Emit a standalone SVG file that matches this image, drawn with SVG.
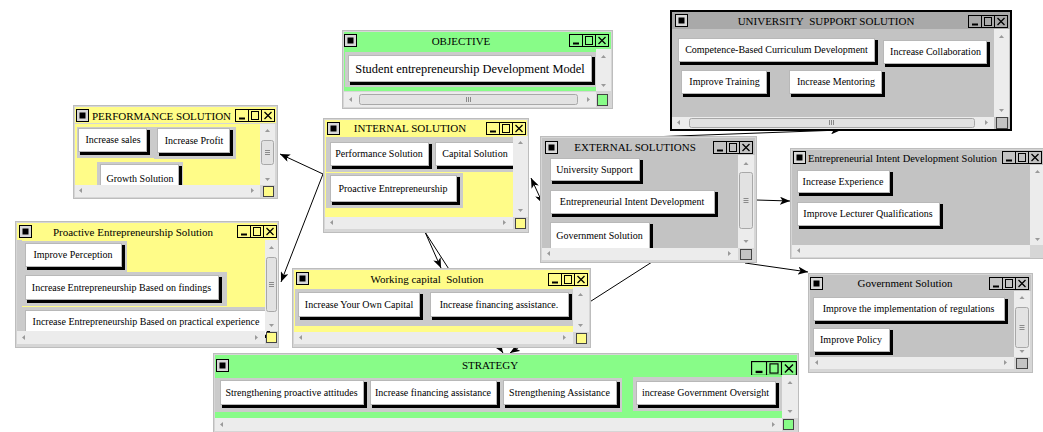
<svg xmlns="http://www.w3.org/2000/svg" width="1043" height="432" viewBox="0 0 1043 432">
<defs>
<style>
.fr{fill:#d6d6d6;stroke:#bdbdbd;stroke-width:1}
.g{fill:#88fc88}
.y{fill:#fffc88}
.k{fill:#c3c3c3}
.kt{fill:#a9a9a9}
.row{fill:#cbcbcb}
.sb{fill:#ececec}
.th{fill:#e2e2e2;stroke:#a8a8a8;stroke-width:1}
.tm{stroke:#8a8a8a;stroke-width:1}
.cor{stroke:#444;stroke-width:1}
.bs{fill:#000}
.bf{fill:#fff;stroke:#b8b8b8;stroke-width:1}
.tt{font-family:"Liberation Serif","Times New Roman",serif;font-size:11px;fill:#000}
.bt{font-family:"Liberation Serif","Times New Roman",serif;font-size:10px;fill:#000;text-anchor:middle}
.c{text-anchor:middle}
.ln{stroke:#000;stroke-width:1;fill:none}
</style>
<marker id="ah" viewBox="0 0 10 8" refX="10" refY="4" markerWidth="10" markerHeight="8" markerUnits="userSpaceOnUse" orient="auto-start-reverse"><path d="M0,0 L10,4 L0,8 L2.5,4 z" fill="#000"/></marker>
<g id="menu"><rect x="0.5" y="0.5" width="12" height="12" fill="#d8d8d8" stroke="#000"/><rect x="3.5" y="3.5" width="6" height="6" fill="#000"/></g>
<g id="ctl" fill="none" stroke="#000"><rect x="0.5" y="0.5" width="39" height="12"/><line x1="13.5" y1="0" x2="13.5" y2="13"/><line x1="26.5" y1="0" x2="26.5" y2="13"/><line x1="4" y1="9.5" x2="10" y2="9.5" stroke-width="2"/><rect x="16.5" y="2.5" width="7" height="8"/><path d="M29.5,3 L36.5,10 M36.5,3 L29.5,10" stroke-width="1.3"/></g>
<path id="au" d="M0,3 L2.5,0 L5,3z" fill="#9a9a9a"/>
<path id="ad" d="M0,0 L5,0 L2.5,3z" fill="#9a9a9a"/>
<path id="al" d="M3,0 L3,5 L0,2.5z" fill="#9a9a9a"/>
<path id="ar" d="M0,0 L3,2.5 L0,5z" fill="#9a9a9a"/>
<g id="vm" class="tm"><line x1="0" y1="0.5" x2="5" y2="0.5"/><line x1="0" y1="2.5" x2="5" y2="2.5"/><line x1="0" y1="4.5" x2="5" y2="4.5"/></g>
<g id="hm" class="tm"><line x1="0.5" y1="0" x2="0.5" y2="5"/><line x1="2.5" y1="0" x2="2.5" y2="5"/><line x1="4.5" y1="0" x2="4.5" y2="5"/></g>
</defs>
<rect width="1043" height="432" fill="#fff"/>

<g id="connectors" class="ln">
<line x1="323" y1="174" x2="280" y2="154" marker-end="url(#ah)"/>
<line x1="323" y1="174" x2="281" y2="282" marker-end="url(#ah)"/>
<line x1="531" y1="178" x2="543" y2="204" marker-start="url(#ah)" marker-end="url(#ah)"/>
<line x1="425" y1="232" x2="441" y2="268" marker-end="url(#ah)"/>
<line x1="425" y1="232" x2="503" y2="353" marker-end="url(#ah)"/>
<line x1="652" y1="262" x2="510" y2="353" marker-end="url(#ah)"/>
<line x1="650" y1="137" x2="841" y2="130" marker-end="url(#ah)"/>
<line x1="756" y1="200" x2="790" y2="201" marker-end="url(#ah)"/>
<line x1="745" y1="263" x2="808" y2="272" marker-end="url(#ah)"/>
</g>

<g id="objective">
<rect class="fr" x="342.5" y="30.5" width="270" height="78"/>
<rect class="g" x="344" y="32" width="267" height="17"/>
<use href="#menu" x="344" y="34"/>
<text class="tt c" x="461" y="44.5">OBJECTIVE</text>
<use href="#ctl" x="569" y="34"/>
<rect class="g" x="344" y="49" width="252" height="42"/>
<rect class="row" x="345" y="52" width="251" height="35"/>
<g><rect class="bs" x="350" y="57" width="245" height="28"/><rect class="bf" x="348.5" y="55.5" width="243" height="26"/><text class="bt" style="font-size:12.4px" x="470" y="73">Student entrepreneurship Development Model</text></g>
<rect class="sb" x="596" y="49" width="15" height="42"/>
<use href="#au" x="601" y="55"/><use href="#ad" x="601" y="84"/>
<rect class="sb" x="344" y="92" width="252" height="15"/>
<rect class="th" x="359.5" y="94.5" width="218" height="10" rx="2"/>
<use href="#hm" x="466" y="97"/>
<use href="#al" x="349" y="97"/><use href="#ar" x="587" y="97"/>
<rect class="g cor" x="597.5" y="94.5" width="10" height="11"/>
</g>

<g id="university">
<rect x="671" y="11" width="340" height="119" fill="#c3c3c3" stroke="#000" stroke-width="2"/>
<rect class="kt" x="672" y="12" width="338" height="17"/>
<use href="#menu" x="675" y="14"/>
<text class="tt c" x="826" y="24.5">UNIVERSITY&#160; SUPPORT SOLUTION</text>
<use href="#ctl" x="968" y="15"/>
<rect class="k" x="672" y="29" width="322" height="88"/>
<g><rect class="bs" x="680" y="40" width="198" height="25"/><rect class="bf" x="678.5" y="38.5" width="196" height="23"/><text class="bt" x="776.5" y="53">Competence-Based Curriculum Development</text></g>
<g><rect class="bs" x="885" y="42" width="105" height="25"/><rect class="bf" x="883.5" y="40.5" width="103" height="23"/><text class="bt" x="935.5" y="55">Increase Collaboration</text></g>
<g><rect class="bs" x="683" y="72" width="87" height="25"/><rect class="bf" x="681.5" y="70.5" width="85" height="23"/><text class="bt" x="724.5" y="85">Improve Training</text></g>
<g><rect class="bs" x="791" y="72" width="94" height="25"/><rect class="bf" x="789.5" y="70.5" width="92" height="23"/><text class="bt" x="836" y="85">Increase Mentoring</text></g>
<rect class="sb" x="994" y="29" width="15" height="88"/>
<use href="#au" x="999" y="35"/><use href="#ad" x="999" y="109"/>
<rect class="sb" x="672" y="117" width="322" height="12"/>
<rect class="th" x="689.5" y="118.5" width="285" height="9" rx="2"/>
<use href="#hm" x="829" y="120"/>
<use href="#al" x="677" y="120"/><use href="#ar" x="985" y="120"/>
<rect class="k cor" x="996.5" y="117.5" width="11" height="11"/>
</g>

<g id="performance">
<rect class="fr" x="73.5" y="105.5" width="204" height="93"/>
<rect class="y" x="75" y="107" width="201" height="16"/>
<use href="#menu" x="76" y="109"/>
<text class="tt" x="92" y="119.5">PERFORMANCE SOLUTION</text>
<use href="#ctl" x="235" y="109"/>
<rect class="y" x="75" y="124" width="185" height="61"/>
<rect class="row" x="77" y="127" width="77" height="31"/>
<rect class="row" x="154" y="127" width="82" height="32"/>
<rect class="row" x="97" y="162" width="86" height="23"/>
<g><rect class="bs" x="80" y="130" width="70" height="25"/><rect class="bf" x="78.5" y="128.5" width="68" height="23"/><text class="bt" x="113" y="143">Increase sales</text></g>
<g><rect class="bs" x="159" y="130" width="74" height="26"/><rect class="bf" x="157.5" y="128.5" width="72" height="24"/><text class="bt" x="194" y="143.5">Increase Profit</text></g>
<g><rect class="bs" x="102" y="166" width="80" height="30"/><rect class="bf" x="100.5" y="164.5" width="78" height="28"/><text class="bt" x="140" y="182">Growth Solution</text></g>
<rect class="sb" x="260" y="124" width="15" height="61"/>
<rect class="th" x="261.5" y="140.5" width="12" height="24" rx="2"/>
<use href="#vm" x="265" y="150"/>
<use href="#au" x="265" y="129"/><use href="#ad" x="265" y="178"/>
<rect class="sb" x="75" y="185" width="185" height="12"/>
<use href="#al" x="79" y="188"/><use href="#ar" x="251" y="188"/>
<rect class="y cor" x="263.5" y="186.5" width="10" height="10"/>
</g>

<g id="internal">
<rect class="fr" x="323.5" y="118.5" width="205" height="114"/>
<rect class="y" x="325" y="120" width="202" height="16"/>
<use href="#menu" x="327" y="122"/>
<text class="tt c" x="410" y="132">INTERNAL SOLUTION</text>
<use href="#ctl" x="486" y="122"/>
<rect class="y" x="325" y="136" width="188" height="81"/>
<rect class="row" x="326" y="137" width="187" height="35"/>
<rect class="row" x="326" y="173" width="137" height="35"/>
<g><rect class="bs" x="332" y="144" width="100" height="25"/><rect class="bf" x="330.5" y="142.5" width="98" height="23"/><text class="bt" x="379" y="157">Performance Solution</text></g>
<g><rect class="bs" x="437" y="144" width="80" height="25"/><rect class="bf" x="435.5" y="142.5" width="78" height="23"/><text class="bt" x="475" y="157">Capital Solution</text></g>
<g><rect class="bs" x="332" y="177" width="128" height="28"/><rect class="bf" x="330.5" y="175.5" width="126" height="26"/><text class="bt" x="393" y="192">Proactive Entrepreneurship</text></g>
<rect class="sb" x="513" y="136" width="15" height="81"/>
<use href="#au" x="518" y="141"/><use href="#ad" x="518" y="209"/>
<rect class="sb" x="325" y="217" width="188" height="12"/>
<use href="#al" x="330" y="220"/><use href="#ar" x="503" y="220"/>
<rect class="y cor" x="515.5" y="218.5" width="10" height="10"/>
</g>

<g id="external">
<rect class="fr" x="540.5" y="136.5" width="216" height="126"/>
<rect class="k" x="542" y="138" width="213" height="17"/>
<use href="#menu" x="545" y="141"/>
<text class="tt c" x="635" y="150.5">EXTERNAL SOLUTIONS</text>
<use href="#ctl" x="713" y="141"/>
<rect class="k" x="542" y="155" width="196" height="93"/>
<g><rect class="bs" x="552" y="160" width="91" height="24"/><rect class="bf" x="550.5" y="158.5" width="89" height="22"/><text class="bt" x="594.5" y="172.5">University Support</text></g>
<g><rect class="bs" x="552" y="192" width="166" height="25"/><rect class="bf" x="550.5" y="190.5" width="164" height="23"/><text class="bt" x="632" y="205">Entrepreneurial Intent Development</text></g>
<g><rect class="bs" x="552" y="224" width="101" height="28"/><rect class="bf" x="550.5" y="222.5" width="99" height="26"/><text class="bt" x="599.5" y="238.5">Government Solution</text></g>
<rect class="sb" x="738" y="155" width="16" height="93"/>
<rect class="th" x="739.5" y="172.5" width="13" height="56" rx="2"/>
<use href="#vm" x="743.5" y="198"/>
<use href="#au" x="743.5" y="162"/><use href="#ad" x="743.5" y="240"/>
<rect class="sb" x="542" y="248" width="196" height="12"/>
<use href="#al" x="547" y="251"/><use href="#ar" x="728" y="251"/>
<rect class="k cor" x="740.5" y="249.5" width="11" height="10"/>
</g>

<g id="eids">
<rect class="fr" x="790.5" y="148.5" width="260" height="110"/>
<rect class="k" x="792" y="150" width="260" height="15"/>
<use href="#menu" x="793" y="151"/>
<text class="tt" x="808" y="161.5" textLength="189" lengthAdjust="spacingAndGlyphs">Entrepreneurial Intent Development Solution</text>
<use href="#ctl" x="1002" y="151"/>
<rect class="k" x="792" y="165" width="238" height="80"/>
<g><rect class="bs" x="799" y="172" width="94" height="24"/><rect class="bf" x="797.5" y="170.5" width="92" height="22"/><text class="bt" x="843" y="184.5">Increase Experience</text></g>
<g><rect class="bs" x="799" y="204" width="144" height="25"/><rect class="bf" x="797.5" y="202.5" width="142" height="23"/><text class="bt" x="868" y="217">Improve Lecturer Qualifications</text></g>
<rect class="sb" x="1030" y="165" width="13" height="80"/>
<use href="#au" x="1035" y="170"/><use href="#ad" x="1035" y="238"/>
<rect class="sb" x="792" y="245" width="238" height="12"/>
<use href="#al" x="797" y="248"/>
</g>

<g id="proactive">
<rect class="fr" x="15.5" y="221.5" width="263" height="126"/>
<rect class="y" x="17" y="223" width="260" height="17"/>
<use href="#menu" x="19" y="225"/>
<text class="tt c" x="133" y="235.5">Proactive Entrepreneurship Solution</text>
<use href="#ctl" x="237" y="225"/>
<rect class="y" x="17" y="240" width="248" height="91"/>
<rect class="row" x="17" y="240" width="5" height="67"/>
<rect class="row" x="21" y="241" width="106" height="31"/>
<rect class="row" x="21" y="272" width="206" height="34"/>
<rect class="row" x="17" y="307" width="248" height="24"/>
<g><rect class="bs" x="27" y="245" width="98" height="25"/><rect class="bf" x="25.5" y="243.5" width="96" height="23"/><text class="bt" x="73" y="258">Improve Perception</text></g>
<g><rect class="bs" x="27" y="277" width="195" height="26"/><rect class="bf" x="25.5" y="275.5" width="193" height="24"/><text class="bt" x="121.5" y="290.5">Increase Entrepreneurship Based on findings</text></g>
<g><rect class="bs" x="27" y="312" width="243" height="26"/><rect class="bf" x="25.5" y="310.5" width="241" height="24"/><text class="bt" x="146" y="325">Increase Entrepreneurship Based on practical experience</text></g>
<rect class="sb" x="265" y="240" width="13" height="91"/>
<rect class="th" x="266.5" y="257.5" width="10" height="54" rx="2"/>
<use href="#vm" x="269" y="282"/>
<use href="#au" x="269" y="246"/><use href="#ad" x="269" y="324"/>
<rect class="sb" x="17" y="331" width="248" height="13"/>
<use href="#al" x="22" y="335"/><use href="#ar" x="255" y="335"/>
<rect class="y cor" x="266.5" y="332.5" width="10" height="10"/>
</g>

<g id="working">
<rect class="fr" x="292.5" y="268.5" width="298" height="79"/>
<rect class="y" x="294" y="270" width="295" height="17"/>
<use href="#menu" x="296" y="272"/>
<text class="tt c" x="427" y="282.5">Working capital&#160; Solution</text>
<use href="#ctl" x="548" y="273"/>
<rect class="y" x="294" y="287" width="279" height="45"/>
<rect class="row" x="295" y="289" width="278" height="37"/>
<g><rect class="bs" x="300" y="294" width="123" height="26"/><rect class="bf" x="298.5" y="292.5" width="121" height="24"/><text class="bt" x="359" y="307.5">Increase Your Own Capital</text></g>
<g><rect class="bs" x="432" y="294" width="140" height="26"/><rect class="bf" x="430.5" y="292.5" width="138" height="24"/><text class="bt" x="499" y="307.5">Increase financing assistance.</text></g>
<rect class="sb" x="573" y="287" width="16" height="45"/>
<use href="#au" x="578" y="293"/><use href="#ad" x="578" y="324"/>
<rect class="sb" x="294" y="332" width="279" height="12"/>
<use href="#al" x="299" y="335"/><use href="#ar" x="563" y="335"/>
<rect class="y cor" x="576.5" y="333.5" width="10" height="10"/>
</g>

<g id="government">
<rect class="fr" x="808.5" y="273.5" width="224" height="99"/>
<rect class="k" x="810" y="275" width="221" height="16"/>
<use href="#menu" x="810" y="277"/>
<text class="tt c" x="905" y="287">Government Solution</text>
<use href="#ctl" x="989" y="277"/>
<rect class="k" x="810" y="291" width="204" height="66"/>
<g><rect class="bs" x="815" y="299" width="193" height="25"/><rect class="bf" x="813.5" y="297.5" width="191" height="23"/><text class="bt" x="908.5" y="312">Improve the implementation of regulations</text></g>
<g><rect class="bs" x="815" y="330" width="78" height="25"/><rect class="bf" x="813.5" y="328.5" width="76" height="23"/><text class="bt" x="851" y="343">Improve Policy</text></g>
<rect class="sb" x="1014" y="291" width="16" height="66"/>
<rect class="th" x="1015.5" y="307.5" width="13" height="40" rx="2"/>
<use href="#vm" x="1019.5" y="325"/>
<use href="#au" x="1019.5" y="296"/><use href="#ad" x="1019.5" y="350"/>
<rect class="sb" x="810" y="357" width="204" height="12"/>
<use href="#al" x="815" y="360"/><use href="#ar" x="1004" y="360"/>
<rect class="k cor" x="1016.5" y="358.5" width="11" height="10"/>
</g>

<g id="strategy">
<rect class="fr" x="213.5" y="353.5" width="585" height="80"/>
<rect class="g" x="215" y="355" width="582" height="20"/>
<use href="#menu" x="216" y="359"/>
<text class="tt c" x="490" y="369">STRATEGY</text>
<use href="#ctl" transform="translate(751,361) scale(1.15)"/>
<rect class="g" x="215" y="375" width="567" height="43"/>
<rect class="row" x="215" y="378" width="407" height="34"/>
<rect class="row" x="633" y="377" width="150" height="34"/>
<g><rect class="bs" x="222" y="382" width="145" height="26"/><rect class="bf" x="220.5" y="380.5" width="143" height="24"/><text class="bt" x="291.5" y="395.5">Strengthening proactive attitudes</text></g>
<g><rect class="bs" x="372" y="382" width="128" height="26"/><rect class="bf" x="370.5" y="380.5" width="126" height="24"/><text class="bt" x="433" y="395.5">Increase financing assistance</text></g>
<g><rect class="bs" x="505" y="382" width="115" height="26"/><rect class="bf" x="503.5" y="380.5" width="113" height="24"/><text class="bt" x="559.5" y="395.5">Strengthening Assistance</text></g>
<g><rect class="bs" x="638" y="383" width="141" height="25"/><rect class="bf" x="636.5" y="381.5" width="139" height="23"/><text class="bt" x="705.5" y="396">increase Government Oversight</text></g>
<rect class="sb" x="782" y="375" width="16" height="43"/>
<use href="#au" x="787.5" y="381"/><use href="#ad" x="787.5" y="410"/>
<rect class="sb" x="215" y="418" width="567" height="13"/>
<use href="#al" x="220" y="422"/><use href="#ar" x="772" y="422"/>
<rect class="g cor" x="783.5" y="419.5" width="10" height="10"/>
</g>
</svg>
